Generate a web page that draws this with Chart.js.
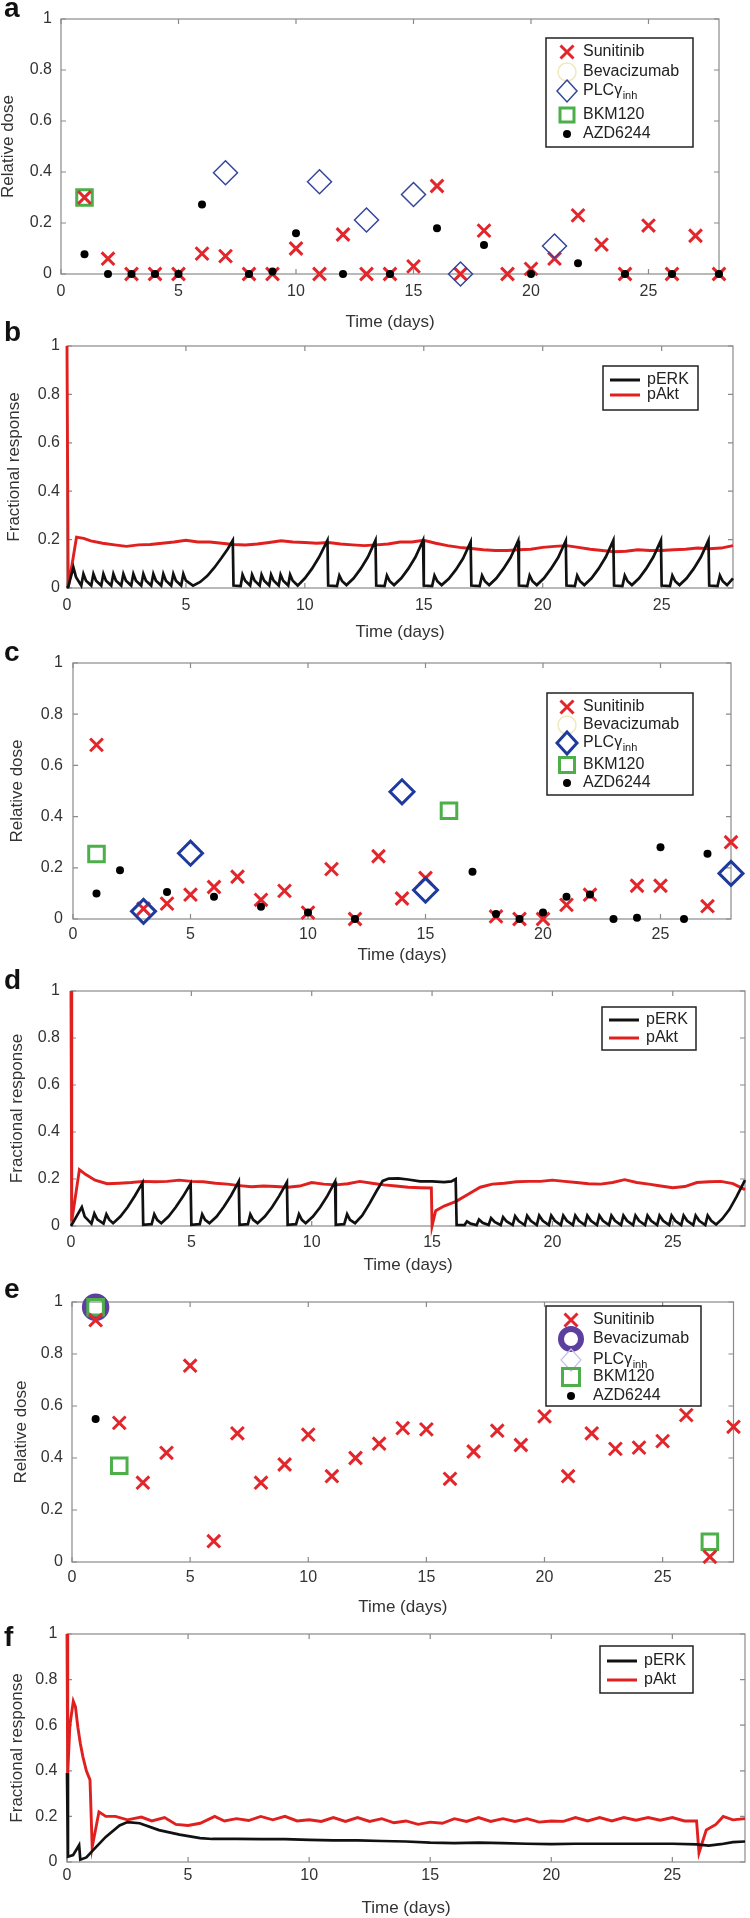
<!DOCTYPE html>
<html>
<head>
<meta charset="utf-8">
<script src="https://cdn.jsdelivr.net/npm/chart.js@4.4.0/dist/chart.umd.min.js"></script>
<style>
  html, body { margin: 0; padding: 0; background: #fff; }
  #page { position: relative; width: 750px; height: 1918px; overflow: hidden; background: #fff; }
  canvas { position: absolute; left: 0; }
  .tag { position: absolute; left: 4px; font: bold 28px "Liberation Sans", Arial, sans-serif; line-height: 28px; color: #111; }
</style>
</head>
<body>
<div id="page">
  <canvas id="chartA"></canvas>
  <canvas id="chartB"></canvas>
  <canvas id="chartC"></canvas>
  <canvas id="chartD"></canvas>
  <canvas id="chartE"></canvas>
  <canvas id="chartF"></canvas>
  <div class="tag" style="top:-6px">a</div>
  <div class="tag" style="top:318px">b</div>
  <div class="tag" style="top:638px">c</div>
  <div class="tag" style="top:966px">d</div>
  <div class="tag" style="top:1275px">e</div>
  <div class="tag" style="top:1623px">f</div>
</div>
<script>
// --- dose schedules (day 1..28) ---
const days = [1,2,3,4,5,6,7,8,9,10,11,12,13,14,15,16,17,18,19,20,21,22,23,24,25,26,27,28];

const sunitinibA = [0.30,0.06,0,0,0,0.08,0.07,0,0,0.10,0,0.155,0,0,0.03,0.345,0,0.17,0,0.02,0.06,0.23,0.115,0,0.19,0,0.15,0];
const bevacizumabA = [];
const plcA = [[7,0.397],[11,0.362],[13,0.212],[15,0.312],[17,0],[21,0.11]];
const bkmA = [[1,0.30]];
const azdA = [[1,0.077],[2,0],[3,0],[4,0],[5,0],[6,0.273],[8,0],[9,0.01],[10,0.16],[12,0],[14,0],[16,0.179],[18,0.114],[20,0],[22,0.042],[24,0],[26,0],[28,0]];

const sunitinibC = [0.68,null,0.04,0.06,0.095,0.125,0.165,0.075,0.11,0.025,0.195,0,0.245,0.08,0.16,null,null,0.01,0,0,0.055,0.095,null,0.13,0.13,null,0.05,0.30];
const bevacizumabC = [];
const plcC = [[3,0.03],[5,0.257],[14,0.497],[15,0.113],[28,0.178]];
const bkmC = [[1,0.254],[16,0.423]];
const azdC = [[1,0.10],[2,0.19],[4,0.105],[6,0.087],[8,0.048],[10,0.025],[12,0],[17,0.185],[18,0.02],[19,0],[20,0.025],[21,0.087],[22,0.096],[23,0],[24,0.005],[25,0.28],[26,0],[27,0.255]];

const sunitinibE = [0.93,0.535,0.305,0.42,0.755,0.08,0.495,0.305,0.375,0.49,0.33,0.40,0.455,0.515,0.51,0.32,0.425,0.505,0.45,0.56,0.33,0.495,0.435,0.44,0.465,0.565,0.02,0.52];
const bevacizumabE = [[1,0.98]];
const plcE = [];
const bkmE = [[1,0.98],[2,0.37],[27,0.078]];
const azdE = [[1,0.55]];

// --- simulated responses [time (days), fraction] ---
const erkB = [[0,0],[0.05,0.005],[0.27,0.085],[0.38,0.045],[0.6,0.01],
  [0.69,0.058],[0.8,0.03],[1.02,0.01],[1.11,0.058],[1.22,0.03],[1.44,0.01],
  [1.53,0.058],[1.64,0.03],[1.86,0.01],[1.95,0.058],[2.06,0.03],[2.28,0.01],
  [2.37,0.058],[2.48,0.03],[2.7,0.01],[2.79,0.058],[2.9,0.03],[3.12,0.01],
  [3.21,0.058],[3.32,0.03],[3.54,0.01],[3.63,0.058],[3.74,0.03],[3.96,0.01],
  [4.05,0.058],[4.16,0.03],[4.38,0.01],[4.47,0.058],[4.58,0.03],[4.8,0.01],
  [4.89,0.058],[5.0,0.03],[5.3,0.01],
  [5.6,0.025],[5.9,0.05],[6.2,0.085],[6.5,0.125],[6.75,0.16],[6.97,0.197],[7.0,0.01],
  [7.3,0.008],[7.38,0.055],[7.49,0.03],[7.7,0.01],[7.78,0.055],[7.89,0.03],[8.1,0.01],
  [8.18,0.055],[8.29,0.03],[8.5,0.01],[8.58,0.055],[8.69,0.03],[8.9,0.01],
  [8.98,0.055],[9.09,0.03],[9.3,0.01],[9.38,0.055],[9.49,0.03],[9.7,0.01],
  [10.0,0.04],[10.3,0.08],[10.6,0.128],[10.95,0.197],[10.98,0.01],
  [11.35,0.008],[11.45,0.052],[11.57,0.028],[11.75,0.012],
  [12.05,0.04],[12.35,0.08],[12.65,0.128],[12.97,0.197],[13.0,0.01],
  [13.35,0.008],[13.45,0.052],[13.57,0.028],[13.75,0.012],
  [14.05,0.04],[14.35,0.08],[14.65,0.128],[14.97,0.197],[15.0,0.01],
  [15.35,0.008],[15.45,0.052],[15.57,0.028],[15.75,0.012],
  [16.05,0.038],[16.35,0.076],[16.65,0.122],[16.97,0.19],[17.0,0.01],
  [17.35,0.008],[17.45,0.052],[17.57,0.028],[17.75,0.012],
  [18.05,0.04],[18.35,0.08],[18.65,0.126],[18.97,0.195],[19.0,0.01],
  [19.35,0.008],[19.45,0.052],[19.57,0.028],[19.75,0.012],
  [20.05,0.04],[20.35,0.08],[20.65,0.126],[20.97,0.195],[21.0,0.01],
  [21.35,0.008],[21.45,0.052],[21.57,0.028],[21.75,0.012],
  [22.05,0.04],[22.35,0.08],[22.65,0.128],[22.97,0.197],[23.0,0.01],
  [23.35,0.008],[23.45,0.052],[23.57,0.028],[23.75,0.012],
  [24.05,0.04],[24.35,0.08],[24.65,0.128],[24.97,0.197],[25.0,0.01],
  [25.35,0.008],[25.45,0.052],[25.57,0.028],[25.75,0.012],
  [26.05,0.04],[26.35,0.08],[26.65,0.128],[26.97,0.197],[27.0,0.01],
  [27.35,0.008],[27.45,0.052],[27.57,0.028],[27.75,0.012],[28.0,0.04]];

const aktB = [[0,1],[0.05,0],[0.4,0.21],[0.7,0.205],[1.0,0.195],[1.5,0.185],[2.0,0.178],[2.5,0.172],
  [3.0,0.178],[3.5,0.18],[4.0,0.185],[4.5,0.19],[5.0,0.197],[5.5,0.19],[6.0,0.19],[6.5,0.185],
  [7.0,0.18],[7.5,0.178],[8.0,0.182],[8.5,0.188],[9.0,0.195],[9.5,0.19],[10.0,0.188],[10.5,0.185],
  [11.0,0.188],[11.5,0.182],[12.0,0.178],[12.5,0.175],[13.0,0.178],[13.5,0.182],[14.0,0.19],[14.5,0.19],
  [15.0,0.197],[15.5,0.185],[16.0,0.175],[16.5,0.168],[17.0,0.163],[17.5,0.158],[18.0,0.155],[18.5,0.155],
  [19.0,0.158],[19.5,0.16],[20.0,0.168],[20.5,0.172],[21.0,0.175],[21.5,0.168],[22.0,0.16],[22.5,0.155],
  [23.0,0.15],[23.5,0.152],[24.0,0.158],[24.5,0.155],[25.0,0.155],[25.5,0.158],[26.0,0.16],[26.5,0.165],
  [27.0,0.162],[27.5,0.165],[28.0,0.175]];

const erkD = [[0,0],[0.45,0.08],[0.57,0.04],[0.85,0.01],[0.97,0.053],[1.09,0.028],[1.35,0.01],
  [1.47,0.05],[1.59,0.027],[1.75,0.012],[2.05,0.04],[2.35,0.08],[2.65,0.128],[2.97,0.184],[3.0,0.005],
  [3.35,0.008],[3.46,0.05],[3.58,0.026],[3.75,0.012],[4.05,0.04],[4.35,0.08],[4.65,0.125],[4.97,0.18],[5.0,0.005],
  [5.35,0.008],[5.45,0.05],[5.57,0.026],[5.75,0.012],[6.05,0.04],[6.35,0.082],[6.65,0.13],[6.97,0.19],[7.0,0.005],
  [7.35,0.008],[7.45,0.05],[7.57,0.026],[7.75,0.012],[8.05,0.04],[8.35,0.08],[8.65,0.128],[8.97,0.186],[9.0,0.005],
  [9.35,0.008],[9.47,0.05],[9.59,0.026],[9.75,0.012],[10.05,0.04],[10.35,0.08],[10.65,0.128],[10.97,0.189],[11.0,0.005],
  [11.35,0.008],[11.47,0.05],[11.59,0.026],[11.8,0.012],[12.1,0.045],[12.4,0.095],[12.7,0.15],[12.95,0.192],
  [13.2,0.202],[13.6,0.203],[14.0,0.198],[14.5,0.19],[15.0,0.19],[15.5,0.187],[15.8,0.19],[15.98,0.2],[16.02,0.005],
  [16.35,0.004],[16.45,0.02],[16.6,0.01],[16.85,0.004],[16.95,0.028],[17.1,0.014],[17.35,0.004],
  [17.45,0.034],[17.6,0.017],[17.85,0.004],[17.95,0.038],[18.1,0.019],[18.35,0.004],
  [18.45,0.042],[18.6,0.021],[18.85,0.004],[18.95,0.044],[19.1,0.022],[19.35,0.004],
  [19.45,0.045],[19.6,0.022],[19.85,0.004],[19.95,0.045],[20.1,0.022],[20.35,0.004],
  [20.45,0.045],[20.6,0.022],[20.85,0.004],[20.95,0.045],[21.1,0.022],[21.35,0.004],
  [21.45,0.045],[21.6,0.022],[21.85,0.004],[21.95,0.045],[22.1,0.022],[22.35,0.004],
  [22.45,0.045],[22.6,0.022],[22.85,0.004],[22.95,0.045],[23.1,0.022],[23.35,0.004],
  [23.45,0.045],[23.6,0.022],[23.85,0.004],[23.95,0.045],[24.1,0.022],[24.35,0.004],
  [24.45,0.045],[24.6,0.022],[24.85,0.004],[24.95,0.045],[25.1,0.022],[25.35,0.004],
  [25.45,0.045],[25.6,0.022],[25.85,0.004],[25.95,0.045],[26.1,0.022],[26.35,0.004],
  [26.45,0.045],[26.6,0.022],[26.8,0.006],[27.05,0.03],[27.35,0.07],[27.65,0.125],[28.0,0.195]];

const aktD = [[0,1],[0.03,0.02],[0.35,0.24],[0.6,0.22],[1.0,0.195],[1.5,0.18],[2.0,0.182],[2.5,0.185],
  [3.0,0.19],[3.5,0.188],[4.0,0.19],[4.5,0.195],[5.0,0.19],[5.5,0.188],[6.0,0.182],[6.5,0.178],
  [7.0,0.172],[7.5,0.167],[8.0,0.17],[8.5,0.168],[9.0,0.165],[9.5,0.17],[10.0,0.185],[10.5,0.178],
  [11.0,0.175],[11.5,0.18],[12.0,0.19],[12.5,0.182],[13.0,0.175],[13.5,0.17],[14.0,0.165],[14.5,0.163],
  [14.97,0.162],[15.0,0],[15.15,0.065],[15.5,0.085],[16.0,0.105],[16.5,0.135],[17.0,0.165],[17.5,0.178],
  [18.0,0.182],[18.5,0.188],[19.0,0.19],[19.5,0.19],[20.0,0.195],[20.5,0.19],[21.0,0.185],[21.5,0.18],
  [22.0,0.178],[22.5,0.185],[23.0,0.197],[23.5,0.185],[24.0,0.178],[24.5,0.17],[25.0,0.163],[25.5,0.168],
  [26.0,0.185],[26.5,0.188],[27.0,0.19],[27.5,0.18],[28.0,0.155]];

const erkF = [[0,0.39],[0.04,0.023],[0.25,0.03],[0.45,0.065],[0.5,0.074],[0.55,0.01],[0.8,0.02],[1.06,0.05],
  [1.6,0.11],[2.17,0.16],[2.5,0.175],[3.0,0.17],[3.8,0.14],[4.65,0.12],[5.5,0.105],[6.0,0.101],
  [7.0,0.101],[8.0,0.1],[9.0,0.1],[10.0,0.097],[11.0,0.095],[12.0,0.095],[13.0,0.092],[14.0,0.09],
  [15.0,0.085],[16.0,0.083],[17.0,0.085],[18.0,0.083],[19.0,0.08],[20.0,0.078],[21.0,0.08],[22.0,0.08],
  [23.0,0.08],[24.0,0.08],[25.0,0.08],[26.0,0.077],[26.5,0.072],[27.0,0.078],[27.5,0.087],[28.0,0.09]];

const aktF = [[0,1],[0.03,0.39],[0.12,0.6],[0.26,0.705],[0.35,0.68],[0.45,0.59],[0.55,0.52],[0.66,0.46],
  [0.8,0.4],[0.95,0.36],[1.04,0.065],[1.32,0.22],[1.6,0.2],[2.0,0.2],[2.5,0.185],[3.07,0.197],[3.5,0.18],
  [4.03,0.195],[4.5,0.165],[5.0,0.16],[5.5,0.17],[6.1,0.2],[6.5,0.18],[7.0,0.19],[7.5,0.182],[8.0,0.2],[8.5,0.185],
  [9.0,0.2],[9.5,0.18],[10.0,0.185],[10.5,0.178],[11.0,0.195],[11.5,0.178],[12.0,0.195],[12.5,0.178],
  [13.0,0.19],[13.5,0.172],[14.0,0.18],[14.5,0.165],[15.0,0.175],[15.5,0.17],[16.0,0.19],[16.5,0.178],
  [17.0,0.195],[17.5,0.178],[18.0,0.19],[18.5,0.178],[19.0,0.19],[19.5,0.175],[20.0,0.18],[20.5,0.178],
  [21.0,0.195],[21.5,0.18],[22.0,0.195],[22.5,0.18],[23.0,0.195],[23.5,0.183],[24.0,0.195],[24.5,0.183],
  [25.0,0.195],[25.5,0.18],[26.0,0.18],[26.1,0.04],[26.4,0.14],[26.8,0.165],[27.1,0.2],[27.5,0.185],[28.0,0.19]];

const xTicks = [0, 5, 10, 15, 20, 25];
const yTicks = [0, 0.2, 0.4, 0.6, 0.8, 1];

// --- styling ---
Chart.defaults.font.family = '"Liberation Sans", Arial, Helvetica, sans-serif';
Chart.defaults.color = '#333';
const RED = '#e3262b', BLUE = '#34469e', DARKBLUE = '#1f3a9c', GREEN = '#4caf4a', PURPLE = '#5c3f9f';
const FONT = '"Liberation Sans", Arial, sans-serif';

const pairs = arr => arr.map(p => ({x: p[0], y: p[1]}));
const daily = vals => days.map((d, i) => ({x: d, y: vals[i]})).filter(p => p.y !== null);

// MATLAB style box with inward ticks on all four sides
const matlabBox = {
  id: 'matlabBox',
  beforeDatasetsDraw(chart) {
    const {ctx, chartArea: a, scales: {x, y}} = chart;
    ctx.save();
    ctx.strokeStyle = '#8a8a8a';
    ctx.lineWidth = 1.2;
    ctx.strokeRect(a.left, a.top, a.right - a.left, a.bottom - a.top);
    ctx.beginPath();
    xTicks.forEach(v => {
      const px = x.getPixelForValue(v);
      ctx.moveTo(px, a.bottom); ctx.lineTo(px, a.bottom - 5);
      ctx.moveTo(px, a.top); ctx.lineTo(px, a.top + 5);
    });
    yTicks.forEach(v => {
      const py = y.getPixelForValue(v);
      ctx.moveTo(a.left, py); ctx.lineTo(a.left + 5, py);
      ctx.moveTo(a.right, py); ctx.lineTo(a.right - 5, py);
    });
    ctx.stroke();
    ctx.restore();
  }
};

function drawMarker(ctx, m, cx, cy) {
  ctx.save();
  ctx.strokeStyle = m.color; ctx.fillStyle = m.color; ctx.lineWidth = m.lw || 1;
  ctx.beginPath();
  const s = m.s || 7.5;
  if (m.kind === 'cross') {
    const r = 6.5;
    ctx.moveTo(cx - r, cy - r); ctx.lineTo(cx + r, cy + r);
    ctx.moveTo(cx + r, cy - r); ctx.lineTo(cx - r, cy + r);
    ctx.stroke();
  } else if (m.kind === 'ring') {
    ctx.arc(cx, cy, m.r || 8, 0, Math.PI * 2); ctx.stroke();
  } else if (m.kind === 'diamond') {
    ctx.moveTo(cx, cy - 11); ctx.lineTo(cx + 10, cy); ctx.lineTo(cx, cy + 11); ctx.lineTo(cx - 10, cy); ctx.closePath();
    ctx.stroke();
  } else if (m.kind === 'square') {
    ctx.rect(cx - s, cy - s, 2 * s, 2 * s); ctx.stroke();
  } else if (m.kind === 'dot') {
    ctx.arc(cx, cy, 4, 0, Math.PI * 2); ctx.fill();
  }
  ctx.restore();
}

const legends = {};
const boxLegend = {
  id: 'boxLegend',
  afterDraw(chart) {
    const o = legends[chart.canvas.id];
    if (!o) return;
    const ctx = chart.ctx;
    ctx.save();
    ctx.fillStyle = '#fff';
    ctx.fillRect(o.x, o.y, o.w, o.h);
    ctx.strokeStyle = '#222'; ctx.lineWidth = 1.5;
    ctx.strokeRect(o.x, o.y, o.w, o.h);
    ctx.textBaseline = 'middle';
    o.entries.forEach((e, i) => {
      const cy = o.y + o.rows[i];
      if (e.line) {
        ctx.strokeStyle = e.line; ctx.lineWidth = 3;
        ctx.beginPath(); ctx.moveTo(o.x + 7, cy); ctx.lineTo(o.x + 37, cy); ctx.stroke();
      } else {
        drawMarker(ctx, e.mark, o.x + o.mx, cy);
      }
      ctx.fillStyle = '#222';
      ctx.font = '16px ' + FONT;
      const tx = o.x + o.tx;
      ctx.fillText(e.text, tx, cy);
      if (e.sub) {
        const w = ctx.measureText(e.text).width;
        ctx.font = '11px ' + FONT;
        ctx.fillText(e.sub, tx + w + 0.5, cy + 5);
      }
    });
    ctx.restore();
  }
};

function drugSets(sun, bev, plc, bkm, azd, plcWidth, plcColor) {
  return [
    { label: 'AZD6244', data: pairs(azd), pointStyle: 'circle', pointRadius: 4, backgroundColor: '#000', borderColor: '#000', borderWidth: 0, order: 0 },
    { label: 'PLCγinh', data: pairs(plc), pointStyle: 'rectRot', pointRadius: 12, borderColor: plcColor, backgroundColor: 'rgba(0,0,0,0)', borderWidth: plcWidth, order: 1 },
    { label: 'Sunitinib', data: daily(sun), pointStyle: 'crossRot', pointRadius: 9, borderColor: RED, borderWidth: 3, order: 2 },
    { label: 'BKM120', data: pairs(bkm), pointStyle: 'rect', pointRadius: 11, borderColor: GREEN, backgroundColor: 'rgba(0,0,0,0)', borderWidth: 3, order: 3 },
    { label: 'Bevacizumab', data: pairs(bev), pointStyle: 'circle', pointRadius: 11, borderColor: PURPLE, backgroundColor: 'rgba(0,0,0,0)', borderWidth: 5.5, order: 4 }
  ].map(d => Object.assign({ clip: false, showLine: false, pointHoverRadius: d.pointRadius }, d));
}

function lineSets(erk, akt) {
  return [
    { label: 'pERK', data: pairs(erk), showLine: true, borderColor: '#111', borderWidth: 2.7, pointRadius: 0, tension: 0, clip: false, order: 0 },
    { label: 'pAkt', data: pairs(akt), showLine: true, borderColor: '#e0201f', borderWidth: 2.9, pointRadius: 0, tension: 0, clip: false, order: 1 }
  ];
}

function makePanel(id, g, datasets, legend) {
  const padTop = Math.min(25, g.T);
  const xH = 57;
  const top = g.T - padTop;
  const h = padTop + (g.B - g.T) + xH;
  const cv = document.getElementById(id);
  cv.width = 750; cv.height = h;
  cv.style.top = top + 'px';
  cv.style.width = '750px'; cv.style.height = h + 'px';
  legend.y -= top;
  legends[id] = legend;
  return new Chart(cv, {
    type: 'scatter',
    data: { datasets },
    options: {
      responsive: false, animation: false, devicePixelRatio: 1, events: [],
      layout: { padding: { top: padTop, right: 750 - g.R, left: 0, bottom: 0 } },
      plugins: { legend: { display: false }, tooltip: { enabled: false } },
      scales: {
        x: {
          type: 'linear', min: 0, max: 28,
          grid: { display: false, drawTicks: false }, border: { display: false },
          ticks: { stepSize: 5, includeBounds: false, padding: g.xtp, color: '#333', font: { size: 16 }, maxRotation: 0 },
          title: { display: true, text: 'Time (days)', color: '#333', font: { size: 17, lineHeight: 1 }, padding: { top: 0, bottom: g.xtb } },
          afterFit: s => { s.height = xH; }
        },
        y: {
          type: 'linear', min: 0, max: 1,
          grid: { display: false, drawTicks: false }, border: { display: false },
          ticks: { stepSize: 0.2, padding: g.ytp, color: '#333', font: { size: 16 }, callback: v => String(+v.toFixed(1)) },
          title: { display: true, text: g.ytitle, color: '#333', font: { size: 17, lineHeight: 1 }, padding: { top: g.ytt, bottom: 0 } },
          afterFit: s => { s.width = g.L; }
        }
      }
    },
    plugins: [matlabBox, boxLegend]
  });
}

const drugEntries = (bevMark, plcMark, sq) => [
  { text: 'Sunitinib', mark: { kind: 'cross', color: RED, lw: 3 } },
  { text: 'Bevacizumab', mark: bevMark },
  { text: 'PLCγ', sub: 'inh', mark: plcMark },
  { text: 'BKM120', mark: { kind: 'square', color: GREEN, lw: 3, s: sq } },
  { text: 'AZD6244', mark: { kind: 'dot', color: '#000' } }
];
const lineEntries = [ { text: 'pERK', line: '#111' }, { text: 'pAkt', line: '#e0201f' } ];
const paleBev = { kind: 'ring', color: '#efe9bd', lw: 1.5, r: 9 };

makePanel('chartA', { L: 61, R: 719, T: 19, B: 274, xtp: 8, xtb: 0.5, ytp: 9, ytt: 0, ytitle: 'Relative dose' },
  drugSets(sunitinibA, bevacizumabA, plcA, bkmA, azdA, 1.5, BLUE),
  { x: 546, y: 38, w: 147, h: 109, rows: [14, 34, 53, 77, 96], mx: 21, tx: 37,
    entries: drugEntries(paleBev, { kind: 'diamond', color: BLUE, lw: 1.5 }, 7) });

makePanel('chartB', { L: 67, R: 733, T: 346, B: 588, xtp: 8, xtb: 4.5, ytp: 7, ytt: 5.5, ytitle: 'Fractional response' },
  lineSets(erkB, aktB),
  { x: 603, y: 366, w: 95, h: 44, rows: [14, 29], tx: 44, entries: lineEntries });

makePanel('chartC', { L: 73, R: 731, T: 663, B: 919, xtp: 6, xtb: 12.5, ytp: 10, ytt: 8.5, ytitle: 'Relative dose' },
  drugSets(sunitinibC, bevacizumabC, plcC, bkmC, azdC, 3, DARKBLUE),
  { x: 547, y: 693, w: 146, h: 102, rows: [14, 32, 50, 72, 90], mx: 20, tx: 36,
    entries: drugEntries(paleBev, { kind: 'diamond', color: DARKBLUE, lw: 3 }, 7.5) });

makePanel('chartD', { L: 71, R: 745, T: 991, B: 1226, xtp: 7, xtb: 9.5, ytp: 11, ytt: 8.5, ytitle: 'Fractional response' },
  lineSets(erkD, aktD),
  { x: 602, y: 1007, w: 94, h: 43, rows: [13, 31], tx: 44, entries: lineEntries });

makePanel('chartE', { L: 72, R: 737, T: 1302, B: 1562, xtp: 6, xtb: 3.5, ytp: 9, ytt: 12.5, ytitle: 'Relative dose' },
  drugSets(sunitinibE, bevacizumabE, plcE, bkmE, azdE, 1.5, BLUE),
  { x: 546, y: 1306, w: 155, h: 100, rows: [14, 33, 54, 71, 90], mx: 25, tx: 47,
    entries: drugEntries({ kind: 'ring', color: PURPLE, lw: 6, r: 10 }, { kind: 'diamond', color: '#c4c2e4', lw: 1.2 }, 8.5) });

makePanel('chartF', { L: 67, R: 745, T: 1634, B: 1862, xtp: 4, xtb: 2.5, ytp: 9.5, ytt: 8.5, ytitle: 'Fractional response' },
  lineSets(erkF, aktF),
  { x: 600, y: 1646, w: 93, h: 47, rows: [15, 34], tx: 44, entries: lineEntries });
</script>
</body>
</html>
